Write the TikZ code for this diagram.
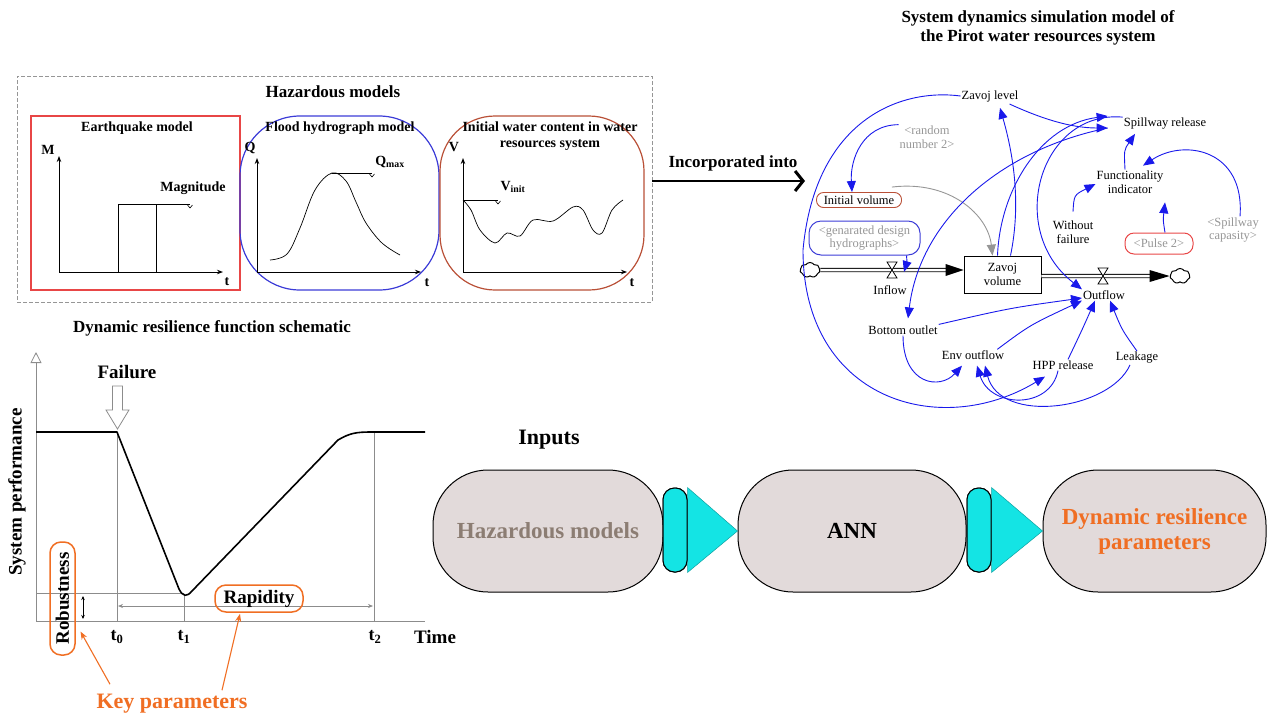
\documentclass[tikz,border=0pt]{standalone}
\usepackage{fontspec}
\setmainfont{Liberation Serif}
\usetikzlibrary{arrows.meta,shapes.symbols}
\definecolor{sdblue}{RGB}{25,25,235}
\definecolor{sdgray}{RGB}{150,150,150}
\definecolor{dashgray}{RGB}{150,150,150}
\definecolor{eqred}{RGB}{232,70,70}
\definecolor{flblue}{RGB}{60,60,215}
\definecolor{iwbrown}{RGB}{185,80,55}
\definecolor{orng}{RGB}{240,110,35}
\definecolor{pillfill}{RGB}{226,218,218}
\definecolor{hazt}{RGB}{140,125,115}
\definecolor{cyanc}{RGB}{20,228,228}
\definecolor{axgray}{RGB}{140,140,140}
\begin{document}
\begin{tikzpicture}[x=1pt,y=-1pt,
  ttl/.style={font=\fontsize{17}{19}\selectfont\bfseries, align=center, inner sep=0pt},
  sub/.style={font=\fontsize{14}{16}\selectfont\bfseries, align=center, inner sep=0pt},
  big/.style={font=\fontsize{19}{21}\selectfont\bfseries, align=center, inner sep=0pt},
  sdt/.style={font=\fontsize{12.5}{13.5}\selectfont, align=center, inner sep=1pt},
  sdg/.style={sdt, text=sdgray},
  sdl/.style={draw=sdblue, line width=0.9pt, -{Triangle[length=11pt,width=9pt]}},
  plotaxis/.style={line width=1pt, -{Stealth[length=6pt,width=4.5pt]}},
  crv/.style={line width=0.7pt},
  pipe/.style={draw=black, line width=0.8pt, double=white, double distance=2.5pt},
  sdcloud/.style={cloud, draw, line width=1pt, cloud puffs=7, cloud puff arc=110, aspect=1.3, minimum width=20pt, minimum height=15pt, inner sep=0pt},
  pill/.style={draw, line width=1pt, fill=pillfill, rounded corners=55pt, minimum height=122pt},
  stad/.style={draw, line width=1pt, fill=cyanc, rounded corners=11.5pt, minimum width=24pt, minimum height=84pt, inner sep=0pt},
  obox/.style={draw=orng, line width=1.5pt, rounded corners=11pt},
  oarr/.style={draw=orng, line width=1.1pt, -{Stealth[length=8pt,width=6pt]}},
  vmark/.pic={\draw[line width=0.6pt] (-2.5,1) -- (0,4) -- (2.5,1);}
]
\useasboundingbox (0,0) rectangle (1268,718);

% ---------------- Hazardous models panel ----------------
\node[draw=dashgray, dash pattern=on 4pt off 2pt, line width=0.9pt, minimum width=635pt, minimum height=226pt, inner sep=0pt] (hz) at (334.5,189) {};
\node[ttl] (hzt) at (333,92) {Hazardous models};

\node[draw=eqred, line width=1.2pt, minimum width=209pt, minimum height=174pt, inner sep=0pt] (eq) at (135.5,203) {};
\node[draw=flblue, line width=1.2pt, rounded corners=60pt, minimum width=199pt, minimum height=174pt, inner sep=0pt] (fl) at (339.5,203) {};
\node[draw=iwbrown, line width=1.2pt, rounded corners=55pt, minimum width=204pt, minimum height=174pt, inner sep=0pt] (iw) at (542,203) {};

\node[sub] (eqt) at (137,128) {Earthquake model};
\node[sub] (flt) at (340,128) {Flood hydrograph model};
\node[sub] (iwt) at (550,136) {Initial water content in water\\resources system};

% earthquake plot
\draw[plotaxis] (59,272) -- (59,156);
\draw[plotaxis] (59,272) -- (223,272);
\node[sub] (eqm) at (48,150) {M};
\node[sub] (eqtt) at (227,282) {t};
\draw[crv] (118,272) -- (118,204) -- (156,204) -- (156,272);
\draw[crv] (156,204) -- (190,204);
\path (190,204) pic {vmark};
\node[sub] (mag) at (193,188) {Magnitude};

% flood plot
\draw[plotaxis] (257,272) -- (257,158);
\draw[plotaxis] (257,272) -- (421,272);
\node[sub] (flq) at (250,148) {Q};
\node[sub] (fltt) at (427,283) {t};
\draw[crv] plot[smooth, tension=0.6] coordinates {(270,260) (287,254) (300,228) (315,190) (332,173) (346,181) (356,202) (366,223) (382,243) (400,255)};
\draw[crv] (332,173) -- (372,173);
\path (372,173) pic {vmark};
\node[sub] (qmax) at (390,162) {Q\textsubscript{max}};

% initial water plot
\draw[plotaxis] (463,272) -- (463,158);
\draw[plotaxis] (463,272) -- (627,272);
\node[sub] (iwv) at (454,147) {V};
\node[sub] (iwtt) at (632,283) {t};
\draw[crv] (463,200) -- (498,200);
\path (498,200) pic {vmark};
\node[sub] (vinit) at (513,187) {V\textsubscript{init}};
\draw[crv] plot[smooth, tension=0.55] coordinates {(463,200) (471,210) (480,230) (495,243) (507,233) (520,236) (533,220) (553,221) (573,207) (583,210) (593,230) (602,233) (612,210) (623,200)};

% Incorporated into
\coordinate (sdin) at (805,181);
\draw[line width=1.3pt, -{Straight Barb[length=8pt,width=20pt,line width=3pt]}] ([yshift=8pt]hz.east) -- (sdin);
\node[ttl] (inc) at (733,163) {Incorporated into};

% ---------------- System dynamics model ----------------
\node[ttl] (sdt) at (1038,27.5) {System dynamics simulation model of\\the Pirot water resources system};

\node[sdt] (zl) at (990,96) {Zavoj level};
\node[sdt] (sr) at (1165,124) {Spillway release};
\node[sdg] (rn) at (927,137) {<random\\number 2>};
\node[sdt] (fi) at (1130,182) {Functionality\\indicator};
\node[sdt, draw=iwbrown, rounded corners=7pt, line width=0.9pt, minimum width=85pt, minimum height=15pt] (iv) at (859,200) {Initial volume};
\node[sdg, draw=flblue, rounded corners=12pt, line width=1pt, minimum width=111pt, minimum height=34pt] (gh) at (864.5,238) {<genarated design\\hydrographs>};
\node[sdt] (wf) at (1073,232) {Without\\failure};
\node[sdg, draw=eqred, rounded corners=9pt, line width=1pt, minimum width=68pt, minimum height=21pt] (pls) at (1159,243.5) {<Pulse 2>};
\node[sdg] (sc) at (1233,230) {<Spillway\\capasity>};
\node[sdt, draw, line width=0.8pt, minimum width=77pt, minimum height=37pt] (zv) at (1002.5,274.5) {Zavoj\\volume};
\node[sdcloud] (cl) at (810,270) {};
\node[sdcloud] (cr) at (1180,276) {};
\node[sdt] (infl) at (890,290) {Inflow};
\node[sdt] (ofl) at (1104,295) {Outflow};
\node[sdt] (bo) at (903,330) {Bottom outlet};
\node[sdt] (eo) at (973,355) {Env outflow};
\node[sdt] (hpp) at (1063,365) {HPP release};
\node[sdt] (lk) at (1137,358) {Leakage};

% pipes
\draw[pipe] (cl.east) -- ([xshift=-16pt,yshift=4.5pt]zv.west);
\fill ([yshift=4.5pt]zv.west) -- ++(-18,6) -- ++(0,-12) -- cycle;
\draw[pipe] ([yshift=-1.5pt]zv.east) -- ([xshift=-18pt]cr.west);
\fill (cr.west) -- ++(-20,6) -- ++(0,-12) -- cycle;
\coordinate (vin) at (892,270);
\coordinate (vout) at (1103,276);
\draw[fill=white, line width=0.8pt] (vin) ++(-5,-8) -- ++(10,0) -- ++(-10,16) -- ++(10,0) -- cycle;
\draw[fill=white, line width=0.8pt] (vout) ++(-5,-8) -- ++(10,0) -- ++(-10,16) -- ++(10,0) -- cycle;

% causal links
\draw[sdl] (zl.west) .. controls (900,88) and (815,120) .. (803,250) .. controls (803,400) and (940,440) .. ([xshift=-18pt,yshift=-6pt]hpp.south);
\draw[sdl] (rn.north west) .. controls (862,125) and (850,160) .. ([xshift=-7pt]iv.north);
\draw[sdl, draw=sdgray] ([xshift=-10pt,yshift=5pt]iv.north east) .. controls (950,180) and (988,215) .. ([xshift=-10pt]zv.north);
\draw[sdl] ([xshift=42pt]gh.south) .. controls (907,262) .. ([xshift=12pt,yshift=-2pt]vin);
\draw[sdl] ([xshift=8pt]zv.north) .. controls (1022,200) and (1012,150) .. ([xshift=10pt,yshift=-5pt]zl.south);
\draw[sdl] ([xshift=-5pt]zv.north) .. controls (1000,190) and (1040,125) .. ([xshift=-15pt,yshift=8pt]sr.west);
\draw[sdl] ([xshift=-10pt,yshift=-8pt]zl.east) .. controls (1040,118) and (1070,128) .. ([xshift=-15pt,yshift=-4pt]sr.west);
\draw[sdl] ([xshift=-15pt,yshift=-4pt]sr.west) .. controls (1000,150) and (920,220) .. ([xshift=5pt,yshift=6pt]bo.north);
\draw[sdl] (sr.north west) .. controls (1040,110) and (1005,230) .. (ofl.north west);
\draw[sdl] (bo.north east) .. controls (1010,308) .. ([yshift=-3pt]ofl.west);
\draw[sdl] ([xshift=-8pt]eo.north east) .. controls (1030,325) .. (ofl.south west);
\draw[sdl] ([xshift=5pt]hpp.north) .. controls (1082,330) .. ([xshift=-9pt]ofl.south);
\draw[sdl] (lk.north) .. controls (1122,330) .. ([xshift=6pt]ofl.south);
\draw[sdl] (bo.south) .. controls (903,385) and (940,390) .. ([xshift=-11pt,yshift=-5pt]eo.south);
\draw[sdl] ([xshift=-5pt]hpp.south) .. controls (1050,410) and (990,408) .. ([xshift=4pt,yshift=-5pt]eo.south);
\draw[sdl] ([xshift=-7pt]lk.south) .. controls (1110,410) and (1000,425) .. ([xshift=12pt,yshift=-5pt]eo.south);
\draw[sdl] ([yshift=8pt]wf.north) .. controls (1074,195) .. ([yshift=-2pt]fi.west);
\draw[sdl] ([xshift=6pt]pls.north) .. controls (1163,220) .. ([xshift=35pt,yshift=-8pt]fi.south);
\draw[sdl] ([xshift=7pt]sc.north) .. controls (1245,150) and (1185,138) .. ([xshift=13pt,yshift=4pt]fi.north);
\draw[sdl] ([xshift=-5pt]fi.north) .. controls (1124,150) .. ([xshift=-30pt,yshift=-3pt]sr.south);

% ---------------- Dynamic resilience function ----------------
\node[ttl] (drt) at (212,328) {Dynamic resilience function schematic};
\draw[axgray, line width=0.8pt, -{Triangle[open,length=11pt,width=11pt]}] (36,621) -- (36,352);
\draw[axgray, line width=0.8pt] (36,621) -- (425,621);
\draw[axgray, line width=0.6pt] (117,432) -- (117,621);
\draw[axgray, line width=0.6pt] (184,594) -- (184,621);
\draw[axgray, line width=0.6pt] (374,432) -- (374,621);
\draw[axgray, line width=0.6pt] (36,593) -- (184,593);
\draw[line width=1.6pt, line join=round] (36,432) -- (117,432) -- (179,589) .. controls (183,597) and (187,597) .. (192,591) -- (338,440) .. controls (350,433) and (356,432) .. (372,432) -- (425,432);
\draw[axgray, line width=0.7pt, {Stealth[length=5pt,width=4pt]}-{Stealth[length=5pt,width=4pt]}] (118,606) -- (373,606);
\draw[line width=0.7pt, {Stealth[length=4pt,width=3.5pt]}-{Stealth[length=4pt,width=3.5pt]}] (83,596) -- (83,619);

\node[big] (fail) at (127,372) {Failure};
\draw[axgray, line width=0.8pt, fill=white] (112.5,386) -- (122.5,386) -- (122.5,410) -- (129,410) -- (117.5,429) -- (106,410) -- (112.5,410) -- cycle;

\node[font=\fontsize{18}{20}\selectfont\bfseries, inner sep=0pt] (t0) at (117,637) {t\textsubscript{0}};
\node[font=\fontsize{18}{20}\selectfont\bfseries, inner sep=0pt] (t1) at (184,637) {t\textsubscript{1}};
\node[font=\fontsize{18}{20}\selectfont\bfseries, inner sep=0pt] (t2) at (375,637) {t\textsubscript{2}};
\node[big] (time) at (435,637) {Time};
\node[big, rotate=90] (sp) at (17,492) {System performance};
\node[big, rotate=90, obox, minimum width=113pt, minimum height=25pt, inner sep=2pt] (rob) at (62.5,598.5) {Robustness};
\node[big, obox, minimum width=88pt, minimum height=27pt, inner sep=2pt] (rap) at (259,598.5) {Rapidity};
\node[font=\fontsize{22}{24}\selectfont\bfseries, text=orng, inner sep=0pt] (key) at (172,704) {Key parameters};
\draw[oarr] ([xshift=-62pt,yshift=10pt]key.north) -- ([xshift=18pt,yshift=-33pt]rob.center);
\draw[oarr] ([xshift=50pt,yshift=4pt]key.north) -- ([xshift=-19pt,yshift=-1pt]rap.south);

% ---------------- ANN pipeline ----------------
\node[font=\fontsize{22}{24}\selectfont\bfseries, inner sep=0pt] (inp) at (549,440) {Inputs};
\node[pill, minimum width=230pt, text=hazt, font=\fontsize{23}{25}\selectfont\bfseries] (pa) at (548,531) {Hazardous models};
\node[pill, minimum width=228pt, font=\fontsize{23}{25}\selectfont\bfseries] (pb) at (852,531) {ANN};
\node[pill, minimum width=223pt, text=orng, align=center, font=\fontsize{23}{25}\selectfont\bfseries] (pc) at (1154.5,531) {Dynamic resilience\\parameters};
\node[stad] (c1) at (675,530) {};
\node[stad] (c2) at (979,530) {};
\draw[fill=cyanc, draw=cyanc!70!black, line width=0.5pt] (c1.north east) -- (c1.south east) -- (pb.west) -- cycle;
\draw[fill=cyanc, draw=cyanc!70!black, line width=0.5pt] (c2.north east) -- (c2.south east) -- (pc.west) -- cycle;
\node[stad] at (c1) {};
\node[stad] at (c2) {};
\end{tikzpicture}
\end{document}
